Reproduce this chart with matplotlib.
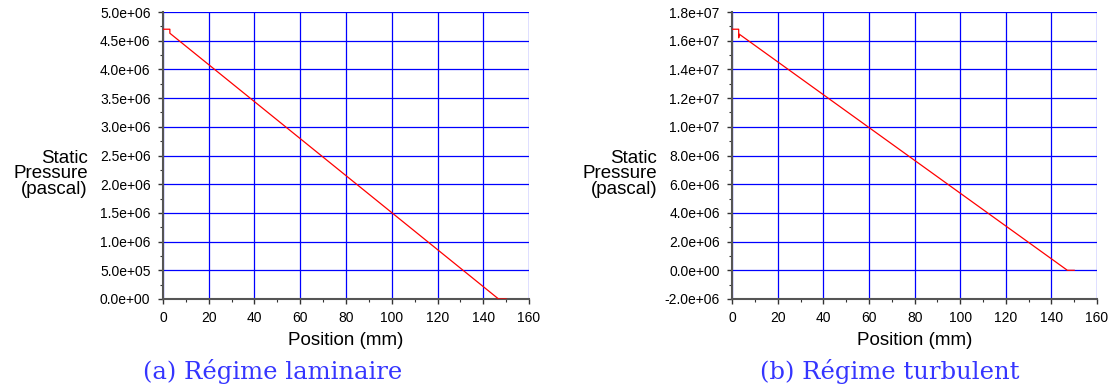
import matplotlib
matplotlib.use("Agg")
import matplotlib.pyplot as plt
from matplotlib.ticker import MultipleLocator

# laminar regime profile
lam_pos = [0.0, 3.0, 3.0, 146.7, 150.0]
lam_p = [4.70e6, 4.70e6, 4.63e6, 0.0, 0.0]

# turbulent regime profile
turb_pos = [0.0, 2.8, 2.8, 3.1, 147.0, 150.0]
turb_p = [1.68e7, 1.68e7, 1.62e7, 1.645e7, 0.0, 0.0]

captions = ["(a) Régime laminaire", "(b) Régime turbulent"]

plt.rcParams["font.family"] = ["Liberation Sans", "DejaVu Sans"]

fig = plt.figure(figsize=(11.11, 3.85), dpi=100)
W, H = 1111.0, 385.0


def sci_fmt(v, pos):
    s = "%.1e" % v
    if s.startswith("-0.0"):
        s = s[1:]
    return s


def setup(ax, ylim, ystep):
    ax.set_xlim(0, 160)
    ax.set_ylim(*ylim)
    ax.xaxis.set_major_locator(MultipleLocator(20))
    ax.xaxis.set_minor_locator(MultipleLocator(10))
    ax.yaxis.set_major_locator(MultipleLocator(ystep))
    ax.yaxis.set_minor_locator(MultipleLocator(ystep / 2))
    ax.yaxis.set_major_formatter(sci_fmt)
    ax.grid(True, which="major", color="#0000ff", linewidth=0.9)
    ax.set_axisbelow(True)
    for s in ("top", "right"):
        ax.spines[s].set_visible(False)
    for s in ("left", "bottom"):
        ax.spines[s].set_color("#555555")
        ax.spines[s].set_linewidth(1.5)
        ax.spines[s].set_zorder(3)
    ax.tick_params(which="major", direction="out", length=3.5, width=1,
                   color="#333333", labelsize=10, pad=5.5)
    ax.tick_params(which="minor", direction="out", length=2, width=0.8,
                   color="#333333")
    ax.set_xlabel("Position (mm)", fontsize=13.5, labelpad=5)


ax1 = fig.add_axes([163 / W, (H - 299) / H, 366 / W, 287 / H])
setup(ax1, (0, 5.0e6), 5e5)
ax1.plot(lam_pos, lam_p, color="#ff0000", linewidth=0.9, zorder=4)

ax2 = fig.add_axes([732.3 / W, (H - 299) / H, 364.7 / W, 287 / H])
setup(ax2, (-2.0e6, 1.8e7), 2e6)
ax2.plot(turb_pos, turb_p, color="#ff0000", linewidth=0.9, zorder=4)

for xr in (88, 657):
    fig.text(xr / W, 1 - 174 / H, "Static\nPressure\n(pascal)", ha="right",
             va="center", multialignment="right", fontsize=13.5,
             linespacing=0.87)

for xc, txt in zip((273, 890), captions):
    fig.text(xc / W, 1 - 371 / H, txt, ha="center", va="center",
             fontsize=17.5, color="#3535ff",
             family=["DejaVu Serif", "Liberation Serif"])

fig.savefig("out.png", dpi=100)
